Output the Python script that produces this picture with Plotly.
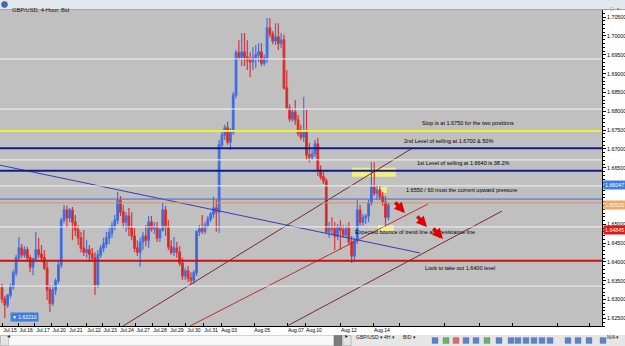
import plotly.graph_objects as go

# ---------------- data (GBP/USD 4-hour candles) ----------------
candle_index = list(range(138))
open_ = [1.6331,1.6302,1.6286,1.6312,1.6334,1.6371,1.6411,1.6437,1.6419,1.6432,
         1.6411,1.6387,1.6408,1.6432,1.6421,1.6411,1.6384,1.6326,1.6291,1.6326,
         1.6350,1.6392,1.6511,1.6538,1.6517,1.6538,1.6506,1.6485,1.6464,1.6437,
         1.6426,1.6432,1.6421,1.6411,1.6339,1.6419,1.6437,1.6448,1.6464,1.6477,
         1.6496,1.6511,1.6562,1.6533,1.6506,1.6522,1.6490,1.6469,1.6437,1.6426,
         1.6453,1.6469,1.6458,1.6506,1.6488,1.6493,1.6464,1.6485,1.6538,1.6493,
         1.6440,1.6426,1.6437,1.6426,1.6397,1.6363,1.6376,1.6357,1.6352,1.6371,
         1.6480,1.6488,1.6482,1.6498,1.6514,1.6527,1.6543,1.6533,1.6711,1.6737,
         1.6756,1.6719,1.6745,1.6843,1.6955,1.6944,1.6957,1.6944,1.6936,1.6931,
         1.6942,1.6950,1.6957,1.6928,1.6942,1.7021,1.7005,1.6987,1.6997,1.6981,
         1.6989,1.6862,1.6809,1.6780,1.6798,1.6777,1.6742,1.6732,1.6748,1.6684,
         1.6679,1.6687,1.6713,1.6644,1.6626,1.6615,1.6480,1.6490,1.6488,1.6469,
         1.6493,1.6485,1.6472,1.6490,1.6453,1.6416,1.6456,1.6538,1.6506,1.6517,
         1.6522,1.6557,1.6599,1.6583,1.6591,1.6573,1.6559,1.6519]
high = [1.6342,1.6310,1.6315,1.6342,1.6379,1.6419,1.6466,1.6448,1.6442,1.6440,
        1.6419,1.6411,1.6480,1.6464,1.6445,1.6432,1.6400,1.6339,1.6339,1.6357,
        1.6400,1.6517,1.6551,1.6549,1.6543,1.6546,1.6525,1.6498,1.6480,1.6485,
        1.6458,1.6445,1.6437,1.6426,1.6432,1.6445,1.6464,1.6480,1.6490,1.6506,
        1.6525,1.6586,1.6575,1.6551,1.6533,1.6543,1.6533,1.6490,1.6458,1.6464,
        1.6480,1.6498,1.6522,1.6522,1.6506,1.6506,1.6490,1.6557,1.6549,1.6511,
        1.6458,1.6466,1.6453,1.6442,1.6411,1.6384,1.6389,1.6373,1.6379,1.6485,
        1.6498,1.6525,1.6506,1.6522,1.6533,1.6573,1.6565,1.6724,1.6745,1.6764,
        1.6772,1.6756,1.6851,1.6963,1.6989,1.7008,1.7008,1.6989,1.6957,1.6971,
        1.6976,1.6981,1.6981,1.6950,1.7048,1.7048,1.7013,1.7034,1.7034,1.7008,
        1.7003,1.6910,1.6819,1.6809,1.6830,1.6790,1.6764,1.6838,1.6804,1.6716,
        1.6697,1.6724,1.6729,1.6657,1.6639,1.6623,1.6506,1.6519,1.6506,1.6501,
        1.6511,1.6498,1.6498,1.6506,1.6469,1.6464,1.6565,1.6551,1.6527,1.6527,
        1.6565,1.6665,1.6665,1.6604,1.6602,1.6586,1.6575,1.6557]
low = [1.6291,1.6251,1.6278,1.6304,1.6326,1.6363,1.6405,1.6411,1.6411,1.6400,
       1.6373,1.6365,1.6400,1.6411,1.6400,1.6379,1.6299,1.6267,1.6283,1.6312,
       1.6342,1.6384,1.6503,1.6490,1.6506,1.6458,1.6469,1.6445,1.6426,1.6416,
       1.6411,1.6400,1.6400,1.6312,1.6331,1.6411,1.6426,1.6437,1.6448,1.6464,
       1.6485,1.6501,1.6522,1.6490,1.6480,1.6469,1.6458,1.6426,1.6416,1.6387,
       1.6432,1.6442,1.6437,1.6480,1.6474,1.6453,1.6453,1.6480,1.6469,1.6432,
       1.6419,1.6416,1.6411,1.6389,1.6352,1.6352,1.6347,1.6342,1.6342,1.6363,
       1.6469,1.6474,1.6474,1.6490,1.6506,1.6517,1.6480,1.6477,1.6703,1.6724,
       1.6711,1.6697,1.6737,1.6835,1.6936,1.6920,1.6920,1.6910,1.6891,1.6910,
       1.6915,1.6931,1.6920,1.6920,1.6928,1.6995,1.6979,1.6976,1.6963,1.6968,
       1.6857,1.6804,1.6772,1.6772,1.6764,1.6734,1.6724,1.6719,1.6671,1.6665,
       1.6671,1.6679,1.6628,1.6618,1.6607,1.6474,1.6464,1.6474,1.6432,1.6458,
       1.6432,1.6464,1.6464,1.6445,1.6397,1.6405,1.6448,1.6496,1.6496,1.6501,
       1.6506,1.6549,1.6575,1.6565,1.6565,1.6549,1.6493,1.6511]
close = [1.6302,1.6286,1.6312,1.6334,1.6371,1.6411,1.6437,1.6419,1.6432,1.6411,
         1.6387,1.6408,1.6432,1.6421,1.6411,1.6384,1.6326,1.6291,1.6326,1.6350,
         1.6392,1.6511,1.6538,1.6517,1.6538,1.6506,1.6485,1.6464,1.6437,1.6426,
         1.6432,1.6421,1.6411,1.6339,1.6419,1.6437,1.6448,1.6464,1.6477,1.6496,
         1.6511,1.6562,1.6533,1.6506,1.6522,1.6490,1.6469,1.6437,1.6426,1.6453,
         1.6469,1.6458,1.6506,1.6488,1.6493,1.6464,1.6485,1.6538,1.6493,1.6440,
         1.6426,1.6437,1.6426,1.6397,1.6363,1.6376,1.6357,1.6352,1.6371,1.6480,
         1.6488,1.6482,1.6498,1.6514,1.6527,1.6543,1.6533,1.6711,1.6737,1.6756,
         1.6719,1.6745,1.6843,1.6955,1.6944,1.6957,1.6944,1.6936,1.6931,1.6942,
         1.6950,1.6957,1.6928,1.6942,1.7021,1.7005,1.6987,1.6997,1.6981,1.6989,
         1.6862,1.6809,1.6780,1.6798,1.6777,1.6742,1.6732,1.6748,1.6684,1.6679,
         1.6687,1.6713,1.6644,1.6626,1.6615,1.6480,1.6490,1.6488,1.6469,1.6493,
         1.6485,1.6472,1.6490,1.6453,1.6416,1.6456,1.6538,1.6506,1.6517,1.6522,
         1.6557,1.6599,1.6583,1.6591,1.6573,1.6559,1.6519,1.6551]

date_labels = ["Jul.15","Jul.16","Jul.17","Jul.20","Jul.21","Jul.22","Jul.23","Jul.24",
               "Jul.27","Jul.28","Jul.29","Jul.30","Jul.31","Aug.03","Aug.05","Aug.07",
               "Aug.10","Aug.12","Aug.14"]
date_ticks = [0, 5.7, 11.7, 17.4, 23.4, 29.8, 35.5, 41.5, 47.2, 53.2, 59.2, 65.2, 71.3,
              77.7, 89.4, 101.4, 107.8, 120.2, 131.9]
future_ticks = [141, 157, 169.5, 181, 197, 208.5]

price_ticks = [1.625,1.630,1.635,1.640,1.645,1.650,1.655,1.660,1.665,
               1.670,1.675,1.680,1.685,1.690,1.695,1.700,1.705]
hidden_price_ticks = [1.655, 1.660]   # covered by price boxes in the picture

# horizontal levels
stop_level = 1.6748
sell2_level = 1.6702
sell1_level = 1.6642
pressure_level = 1.6567
bid_level = 1.6557
support_level = 1.6403
white_levels = [1.6939, 1.6806, 1.6671, 1.6602, 1.6493, 1.6336]

# trend lines (candle index, price)
blue_trend_x = [-0.71, 148.2];  blue_trend_y = [1.6657, 1.6424]
chan1_x = [42.9, 145.7];        chan1_y = [1.6230, 1.6703]
chan2_x = [66.7, 151.1];        chan2_y = [1.6230, 1.6554]
chan3_x = [101.1, 177.3];       chan3_y = [1.6230, 1.6535]

# highlighted zones (x0, x1, y0, y1)
zone_big = (124.1, 139.7, 1.6626, 1.6650)
zone_small = (132.9, 136.5, 1.6583, 1.6599)
zone_bounce = (133.3, 139.0, 1.6482, 1.6498)

# notes
notes = [
    ("Stop is at 1.6750 for the two positions", 165.2, 1.6769),
    ("2nd Level of selling at 1.6700 & 50%", 158.5, 1.6721),
    ("1st Level of selling at 1.6640 is 38.2%", 163.5, 1.6663),
    ("1.6550 / 60 must the current upward pressure", 162.8, 1.6591),
    ("Expected bounce of trend line and resistance line", 146.5, 1.6480),
    ("Look to take out 1.6400 level", 162.4, 1.6384),
]
arrow_heads_x = [142.9, 150.7, 156.4]
arrow_heads_y = [1.6530, 1.6493, 1.6461]

price_boxes = [("1.66047", 1.66047, "#3f7fe0"), ("1.65520", 1.65520, "#f0a868"),
               ("1.64845", 1.64845, "#e01818")]
min_label = "1.62210"
toolbar_items = ["GBP/USD \u25be", "4H \u25be", "BID \u25be", "N/A \u25be"]

# ---------------- layout helpers ----------------
W, H = 625, 346
ML, MR, MT, MB = 0, 23, 10, 20
PW, PH = W - ML - MR, H - MT - MB
def xp(X): return (X - ML) / PW
def yp(Y): return (H - MB - Y) / PH

FONT = "Liberation Sans"

fig = go.Figure()

fig.add_trace(go.Candlestick(
    x=candle_index, open=open_, high=high, low=low, close=close,
    increasing=dict(line=dict(color="#4470e0", width=1.2), fillcolor="#2656d8"),
    decreasing=dict(line=dict(color="#da3434", width=1.2), fillcolor="#cc1212"),
    whiskerwidth=0, showlegend=False, hoverinfo="skip"))

for xs, ys, col in [(blue_trend_x, blue_trend_y, "#3040b8"),
                    (chan1_x, chan1_y, "#7a2828"),
                    (chan2_x, chan2_y, "#b83030"),
                    (chan3_x, chan3_y, "#7a2828")]:
    fig.add_trace(go.Scatter(x=xs, y=ys, mode="lines", line=dict(color=col, width=1),
                             showlegend=False, hoverinfo="skip"))

shapes = []
def hline(y, color, width):
    shapes.append(dict(type="line", xref="x domain", x0=0, x1=1, yref="y", y0=y, y1=y,
                       line=dict(color=color, width=width), layer="above"))

for wl in white_levels:
    hline(wl, "#f2f2f2", 1)
hline(stop_level, "#f2ee30", 2)
hline(sell2_level, "#101c8c", 2)
hline(sell1_level, "#101c8c", 2)
hline(pressure_level, "#4a64d8", 1)
hline(bid_level, "#d0946a", 1)
hline(support_level, "#c81010", 2)

for (x0, x1, y0, y1), op in [(zone_big, 0.85), (zone_small, 0.8), (zone_bounce, 0.8)]:
    shapes.append(dict(type="rect", xref="x", yref="y", x0=x0, x1=x1, y0=y0, y1=y1,
                       fillcolor="#fbf57a", opacity=op, line=dict(width=0), layer="below"))

# window chrome: title bar
shapes.append(dict(type="rect", xref="paper", yref="paper", x0=xp(0), x1=xp(W), y0=yp(9.5), y1=yp(0),
                   fillcolor="#e3e8ee", line=dict(width=0), layer="above"))
shapes.append(dict(type="line", xref="paper", yref="paper", x0=xp(0), x1=xp(W), y0=yp(9.5), y1=yp(9.5),
                   line=dict(color="#a0a8b0", width=1)))
shapes.append(dict(type="circle", xref="paper", yref="paper", x0=xp(1.5), x1=xp(7.5), y0=yp(7.5), y1=yp(1.5),
                   fillcolor="#3a70b0", line=dict(color="#204a80", width=0.5)))
# bottom scroll/toolbar (kept below tick labels)
def bar(x0, x1, y0, y1, fill, line_col=None, lw=0.0, op=1.0):
    shapes.append(dict(type="rect", xref="paper", yref="paper", x0=xp(x0), x1=xp(x1),
                       y0=yp(y1), y1=yp(y0), fillcolor=fill, opacity=op, layer="below",
                       line=dict(color=line_col or fill, width=lw)))
bar(0, W, 335, H, "#e6e6e6")
bar(0.5, 351, 335.5, 345.5, "#f8f8f8", "#b8b8b8", 0.5)
bar(0.5, 8.5, 335.5, 345.5, "#e4e4e4", "#a0a0a0", 0.5)
bar(334, 342, 335.5, 345.5, "#7c7c7c", "#606060", 0.5)
bar(343, 351, 335.5, 345.5, "#e4e4e4", "#a0a0a0", 0.5)
icon_cols = ["#3060c0", "#40a040", "#e04040", "#3060c0", "#3060c0", "#40a040", "#3060c0",
             "#3060c0", "#3060c0", "#3060c0", "#3060c0", "#3060c0", "#3060c0", "#3060c0",
             "#3060c0", "#3060c0", "#3060c0"]
icon_x = [432, 443, 453, 463, 473, 484, 496, 508, 515, 523, 531, 539, 547, 565, 575, 586, 600]
for cx, cc in zip(icon_x, icon_cols):
    bar(cx, cx + 6, 337.5, 343.5, cc, "#506080", 0.4, 0.75)

annotations = []
for txt, x, y in notes:
    annotations.append(dict(x=x, y=y, xref="x", yref="y", text=txt, showarrow=False,
                            font=dict(family=FONT, size=5.5, color="#000000")))
for ax_, ay_ in zip(arrow_heads_x, arrow_heads_y):
    annotations.append(dict(x=ax_, y=ay_, xref="x", yref="y", text="", showarrow=True,
                            ax=-11, ay=-12, arrowhead=2, arrowsize=0.6, arrowwidth=3.5,
                            arrowcolor="#e00000", standoff=0, startstandoff=0))
for lbl, val, col in price_boxes:
    annotations.append(dict(xref="paper", x=1, xanchor="left", xshift=1, yref="y", y=val,
                            text=lbl, showarrow=False, bgcolor=col, borderpad=1,
                            font=dict(family=FONT, size=5.3, color="white")))
annotations.append(dict(xref="paper", yref="paper", x=xp(10), y=yp(321.5), xanchor="left",
                        text="\u25bc " + min_label, showarrow=False, bgcolor="#3f7fe0", borderpad=1,
                        font=dict(family=FONT, size=5, color="white")))
annotations.append(dict(xref="paper", yref="paper", x=xp(10), y=yp(4.8), xanchor="left",
                        text="GBP/USD, 4-Hour, Bid", showarrow=False,
                        font=dict(family=FONT, size=5.7, color="#1a1a1a")))
annotations.append(dict(xref="paper", yref="paper", x=xp(622), y=yp(4.5), xanchor="right",
                        text="\u2013  \u25a1  \u00d7", showarrow=False,
                        font=dict(family=FONT, size=5.5, color="#707070")))
for txt, X in [("\u25c2", 4.5), ("\u25b8", 347)]:
    annotations.append(dict(xref="paper", yref="paper", x=xp(X), y=yp(340.5), text=txt,
                            showarrow=False, font=dict(family=FONT, size=6, color="#303030")))
for txt, X in zip(toolbar_items, [355, 383, 402, 606]):
    annotations.append(dict(xref="paper", yref="paper", x=xp(X), y=yp(341), xanchor="left",
                            text=txt, showarrow=False, borderpad=0,
                            font=dict(family=FONT, size=5.0, color="#202020")))

x_tickvals = date_ticks + future_ticks
x_ticktext = date_labels + [""] * len(future_ticks)
y_ticktext = ["" if v in hidden_price_ticks else "%.5f" % v for v in price_ticks]

fig.update_layout(
    width=W, height=H,
    margin=dict(l=ML, r=MR, t=MT, b=MB, pad=0),
    paper_bgcolor="#ffffff", plot_bgcolor="#c0c0c0",
    showlegend=False, boxgap=0.2,
    shapes=shapes, annotations=annotations,
    xaxis=dict(range=[-0.71, 212.79], rangeslider=dict(visible=False), showgrid=False,
               zeroline=False, showline=True, linecolor="#000000", linewidth=1,
               tickmode="array", tickvals=x_tickvals, ticktext=x_ticktext,
               ticks="inside", ticklen=3, tickcolor="#000000", ticklabelshift=8,
               ticklabelstandoff=-1, tickangle=0,
               tickfont=dict(family=FONT, size=5.0, color="#000000"), fixedrange=True),
    yaxis=dict(range=[1.6230, 1.7069], side="right", showgrid=False, zeroline=False,
               showline=True, linecolor="#000000", linewidth=1,
               tickmode="array", tickvals=price_ticks, ticktext=y_ticktext,
               ticks="outside", ticklen=3, tickcolor="#000000",
               minor=dict(ticks="outside", ticklen=2, dtick=0.001, tickcolor="#000000"),
               tickfont=dict(family=FONT, size=5.3, color="#000000"), fixedrange=True),
)

fig.write_html("out.html", config={"displayModeBar": False})
